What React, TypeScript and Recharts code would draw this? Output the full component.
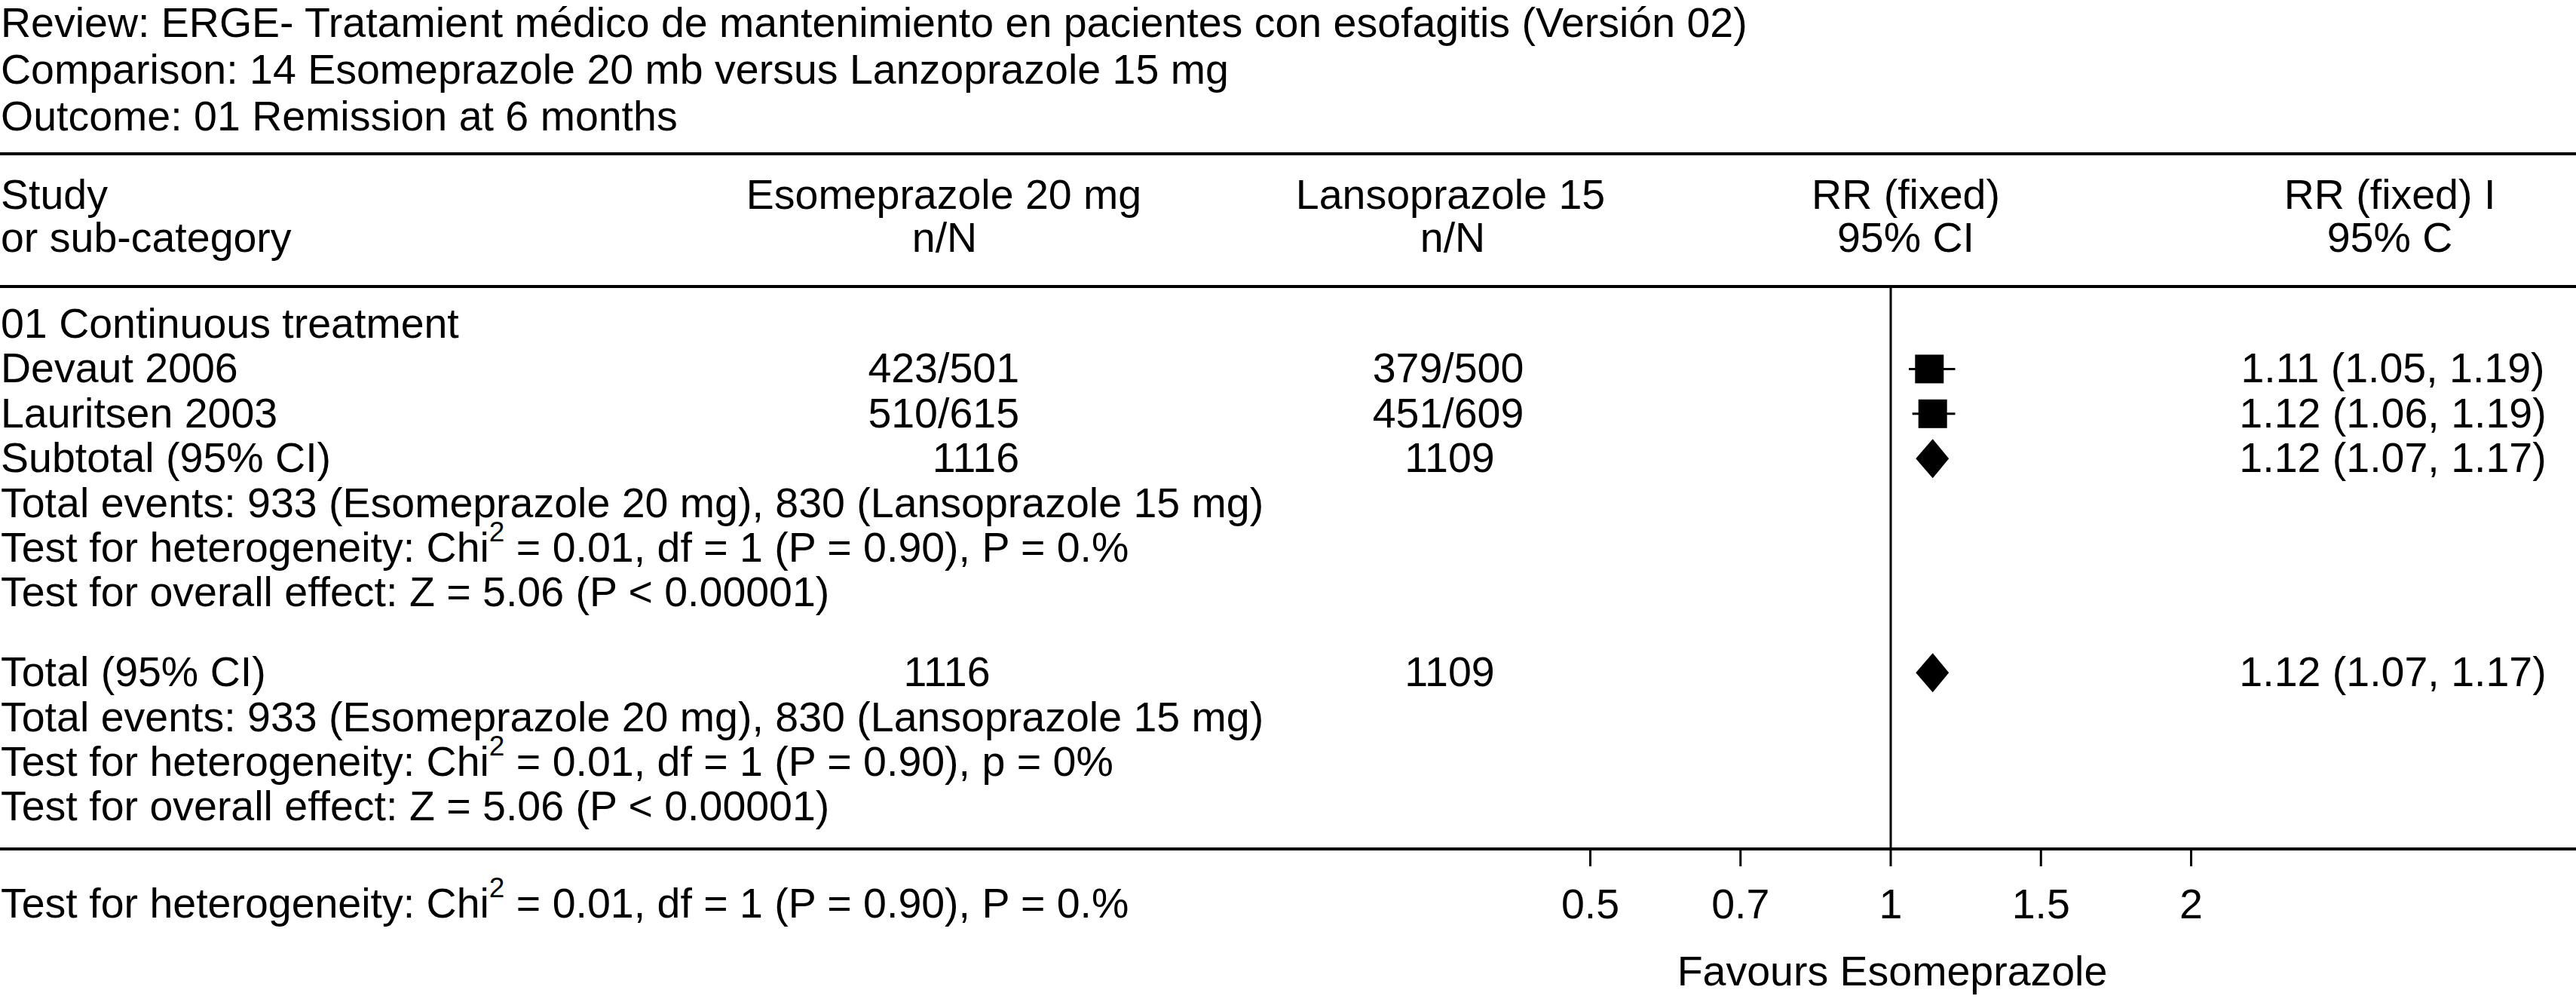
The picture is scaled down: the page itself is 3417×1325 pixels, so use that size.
import React from "react"
import { ComposedChart, XAxis, YAxis, Scatter, ErrorBar, Area, ReferenceLine } from "recharts"

const W = 3417
const H = 1325
const FONT = "'Liberation Sans', Arial, Helvetica, sans-serif"
const FS = 55.5

// ---- data ----
const TITLE_LINES = [
  "Review: ERGE- Tratamient médico de mantenimiento en pacientes con esofagitis (Versión 02)",
  "Comparison: 14 Esomeprazole 20 mb versus Lanzoprazole 15 mg",
  "Outcome: 01 Remission at 6 months",
]

const SUBGROUP = "01 Continuous treatment"
const STUDIES = ["Devaut 2006", "Lauritsen 2003"]
const ESO_N = ["423/501", "510/615"]
const LANSO_N = ["379/500", "451/609"]
const STUDY_RR = [1.11, 1.12]
const STUDY_LO = [1.05, 1.06]
const STUDY_HI = [1.19, 1.19]

const POOLED_LABELS = ["Subtotal (95% CI)", "Total (95% CI)"]
const POOLED_ESO = ["1116", "1116"]
const POOLED_LANSO = ["1109", "1109"]
const POOLED_RR = [1.12, 1.12]
const POOLED_LO = [1.07, 1.07]
const POOLED_HI = [1.17, 1.17]

const EVENTS_TEXT = "Total events: 933 (Esomeprazole 20 mg), 830 (Lansoprazole 15 mg)"
const HET_SUB = ["Test for heterogeneity: Chi", " = 0.01, df = 1 (P = 0.90), P = 0.%"]
const HET_TOTAL = ["Test for heterogeneity: Chi", " = 0.01, df = 1 (P = 0.90), p = 0%"]
const OVERALL_TEXT = "Test for overall effect: Z = 5.06 (P < 0.00001)"

const TICK_VALUES = [0.5, 0.7, 1, 1.5, 2]
const AXIS_LABEL = "Favours Esomeprazole"

// ---- layout ----
const ROW_H = 59.4
const ROW0_BASE = 448
const HALF_CAP = 18
const PLOT_BOTTOM = 1126
const Y_MIN = -(ROW0_BASE - HALF_CAP) / ROW_H
const Y_MAX = Y_MIN + PLOT_BOTTOM / ROW_H
const RULE1_ROW = (204 - (ROW0_BASE - HALF_CAP)) / ROW_H
const RULE2_ROW = (380 - (ROW0_BASE - HALF_CAP)) / ROW_H
const TICK_PX = 199.25
const ONE_PX = 2508
const X_MIN = -ONE_PX / TICK_PX
const X_MAX = (W - ONE_PX) / TICK_PX
const DIAMOND_H = 26 / ROW_H

// ticks are evenly spaced, log interpolation between neighbours
function toPos(v: number) {
  let i = 0
  while (i < TICK_VALUES.length - 2 && v > TICK_VALUES[i + 1]) i++
  const t = Math.log(v / TICK_VALUES[i]) / Math.log(TICK_VALUES[i + 1] / TICK_VALUES[i])
  return i + t - TICK_VALUES.indexOf(1)
}

const STUDY_ROWS = [1, 2]
const POOLED_ROWS = [3, 7.78]

const studyData = STUDY_RR.map((rr, i) => ({
  pos: toPos(rr),
  row: STUDY_ROWS[i],
  err: [toPos(rr) - toPos(STUDY_LO[i]), toPos(STUDY_HI[i]) - toPos(rr)],
}))

const diamondData = POOLED_RR.map((rr, i) => {
  const r = POOLED_ROWS[i]
  return [
    { pos: toPos(POOLED_LO[i]), band: [r, r] },
    { pos: toPos(rr), band: [r - DIAMOND_H, r + DIAMOND_H] },
    { pos: toPos(POOLED_HI[i]), band: [r, r] },
  ]
})

const base = (row: number) => ROW0_BASE + row * ROW_H

const SquareShape = (p: any) => (
  <rect x={p.cx - 19} y={p.cy - 19} width={38} height={38} fill="#000" />
)

function T({ x, y, anchor = "start", children }: any) {
  return (
    <text x={x} y={y} textAnchor={anchor} fontFamily={FONT} fontSize={FS} fill="#000">
      {children}
    </text>
  )
}

function Het({ x, y, parts }: { x: number; y: number; parts: string[] }) {
  return (
    <text x={x} y={y} fontFamily={FONT} fontSize={FS} fill="#000">
      {parts[0]}
      <tspan fontSize={37} dy={-27}>2</tspan>
      <tspan dy={27}>{parts[1]}</tspan>
    </text>
  )
}

function TextLayer() {
  return (
    <svg width={W} height={H} style={{ position: "absolute", left: 0, top: 0, pointerEvents: "none" }}>
      {TITLE_LINES.map((t, i) => (
        <T key={t} x={1} y={49 + i * 62}>{t}</T>
      ))}
      <T x={1} y={277}>Study</T>
      <T x={1} y={334}>or sub-category</T>
      <T x={1252} y={277} anchor="middle">Esomeprazole 20 mg</T>
      <T x={1253} y={334} anchor="middle">n/N</T>
      <T x={1924} y={277} anchor="middle">Lansoprazole 15</T>
      <T x={1927} y={334} anchor="middle">n/N</T>
      <T x={2528} y={277} anchor="middle">RR (fixed)</T>
      <T x={2528} y={334} anchor="middle">95% CI</T>
      <T x={3170} y={277} anchor="middle">RR (fixed) I</T>
      <T x={3170} y={334} anchor="middle">95% C</T>

      <T x={1} y={base(0)}>{SUBGROUP}</T>
      {STUDIES.map((s, i) => (
        <g key={s}>
          <T x={1} y={base(STUDY_ROWS[i])}>{s}</T>
          <T x={1352} y={base(STUDY_ROWS[i])} anchor="end">{ESO_N[i]}</T>
          <T x={1921} y={base(STUDY_ROWS[i])} anchor="middle">{LANSO_N[i]}</T>
          <T x={3174} y={base(STUDY_ROWS[i])} anchor="middle">
            {`${STUDY_RR[i].toFixed(2)} (${STUDY_LO[i].toFixed(2)}, ${STUDY_HI[i].toFixed(2)})`}
          </T>
        </g>
      ))}
      {POOLED_LABELS.map((s, i) => (
        <g key={s}>
          <T x={1} y={base(POOLED_ROWS[i])}>{s}</T>
          {i === 0 ? (
            <T x={1352} y={base(POOLED_ROWS[i])} anchor="end">{POOLED_ESO[i]}</T>
          ) : (
            <T x={1256} y={base(POOLED_ROWS[i])} anchor="middle">{POOLED_ESO[i]}</T>
          )}
          <T x={1923} y={base(POOLED_ROWS[i])} anchor="middle">{POOLED_LANSO[i]}</T>
          <T x={3174} y={base(POOLED_ROWS[i])} anchor="middle">
            {`${POOLED_RR[i].toFixed(2)} (${POOLED_LO[i].toFixed(2)}, ${POOLED_HI[i].toFixed(2)})`}
          </T>
          <T x={1} y={base(POOLED_ROWS[i] + 1)}>{EVENTS_TEXT}</T>
          <Het x={1} y={base(POOLED_ROWS[i] + 2)} parts={i === 0 ? HET_SUB : HET_TOTAL} />
          <T x={1} y={base(POOLED_ROWS[i] + 3)}>{OVERALL_TEXT}</T>
        </g>
      ))}

      <Het x={1} y={1217} parts={HET_SUB} />
      <T x={2510} y={1307} anchor="middle">{AXIS_LABEL}</T>
    </svg>
  )
}

export default function App() {
  return (
    <div style={{ position: "fixed", left: 0, top: 0, width: W, height: H, background: "#fff" }}>
      <ComposedChart width={W} height={H} margin={{ top: 0, right: 0, bottom: 0, left: 0 }}>
        <XAxis
          type="number"
          dataKey="pos"
          domain={[X_MIN, X_MAX]}
          allowDataOverflow
          ticks={TICK_VALUES.map(toPos)}
          interval={0}
          tickFormatter={(v: number) => {
            const i = TICK_VALUES.findIndex((t) => Math.abs(toPos(t) - v) < 1e-6)
            return i >= 0 ? String(TICK_VALUES[i]) : ""
          }}
          height={H - PLOT_BOTTOM}
          axisLine={{ stroke: "#000", strokeWidth: 4 }}
          tickLine={{ stroke: "#000", strokeWidth: 3 }}
          tickSize={23}
          tickMargin={30}
          tick={{ fill: "#000", fontSize: FS, fontFamily: FONT }}
        />
        <YAxis type="number" dataKey="row" domain={[Y_MIN, Y_MAX]} allowDataOverflow reversed hide />
        <ReferenceLine y={RULE1_ROW} stroke="#000" strokeWidth={4} />
        <ReferenceLine y={RULE2_ROW} stroke="#000" strokeWidth={4} />
        <ReferenceLine
          segment={[{ x: toPos(1), y: RULE2_ROW }, { x: toPos(1), y: Y_MAX }]}
          stroke="#000"
          strokeWidth={3}
        />
        {diamondData.map((d, i) => (
          <Area
            key={i}
            data={d}
            dataKey="band"
            type="linear"
            stroke="none"
            fill="#000"
            fillOpacity={1}
            dot={false}
            activeDot={false}
            isAnimationActive={false}
          />
        ))}
        <Scatter data={studyData} dataKey="row" shape={SquareShape} isAnimationActive={false}>
          <ErrorBar dataKey="err" direction="x" width={0} stroke="#000" strokeWidth={3} />
        </Scatter>
      </ComposedChart>
      <TextLayer />
    </div>
  )
}
